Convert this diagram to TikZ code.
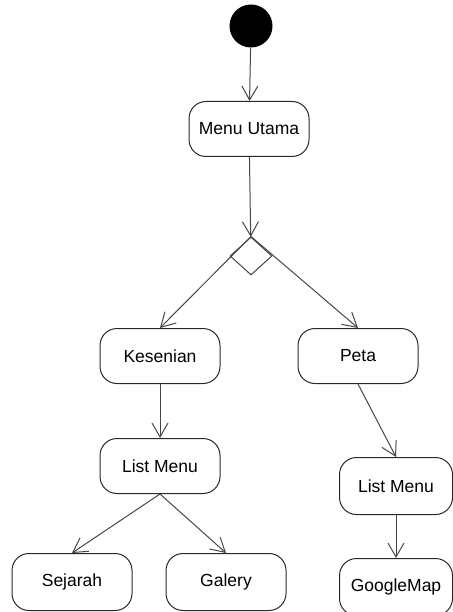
\documentclass[tikz,border=0pt]{standalone}
\usepackage{fontspec}
\setmainfont{Liberation Sans}
\usepackage{tikz}
\usetikzlibrary{arrows.meta,shapes,positioning}
\usepackage{xcolor}
\definecolor{lineGray}{RGB}{70,70,70}
\definecolor{boxGray}{RGB}{40,40,40}
\tikzstyle{arrow} = [line width=1pt,-{Straight Barb[length=14pt,width=16pt,line width=1pt]},color=lineGray]
\tikzstyle{activity} = [rectangle, rounded corners=17pt, minimum width=120pt, minimum height=55pt, text centered, draw=boxGray, line width=1pt, font=\fontsize{17.5}{20}\selectfont]
\tikzstyle{startnode} = [circle, fill=black, minimum size=43pt, inner sep=0pt]
\tikzstyle{choice} = [diamond, draw=lineGray, line width=1pt, minimum width=42pt, minimum height=38pt, inner sep=0pt]

\begin{document}
\begin{tikzpicture}[x=1pt,y=-1pt]
\useasboundingbox (0,0) rectangle (452,612);
% Start
\node[startnode] (start) at (251,26) {};
\node[activity] (menu) at (249,129) {Menu Utama};
\node[choice] (decision) at (251,256) {};

% Branches
\node[activity] (kesenian) at (160,356) {Kesenian};
\node[activity] (peta) at (358,356) {Peta};
\node[activity] (listkes) at (160,466) {List Menu};
\node[activity, minimum width=113pt, minimum height=57pt] (listpeta) at (396,486) {List Menu};

% Leaves
\node[activity, minimum height=57pt] (sejarah) at (72,582) {Sejarah};
\node[activity, minimum height=57pt] (galery) at (226,582) {Galery};
\node[activity, minimum width=113pt, minimum height=57pt] (googlemap) at (396,587) {GoogleMap};

% Connections
\draw[arrow] (start) -- (menu);
\draw[arrow] (menu) -- (decision);
\draw[arrow] (decision.north) -- (kesenian.north);
\draw[arrow] (decision.north) -- (peta.north);
\draw[arrow] (kesenian) -- (listkes);
\draw[arrow] (listkes.south) -- (sejarah.north);
\draw[arrow] (listkes.south) -- (galery.north);
\draw[arrow] (peta.south) -- (listpeta.north);
\draw[arrow] (listpeta) -- (googlemap);
\end{tikzpicture}
\end{document}
